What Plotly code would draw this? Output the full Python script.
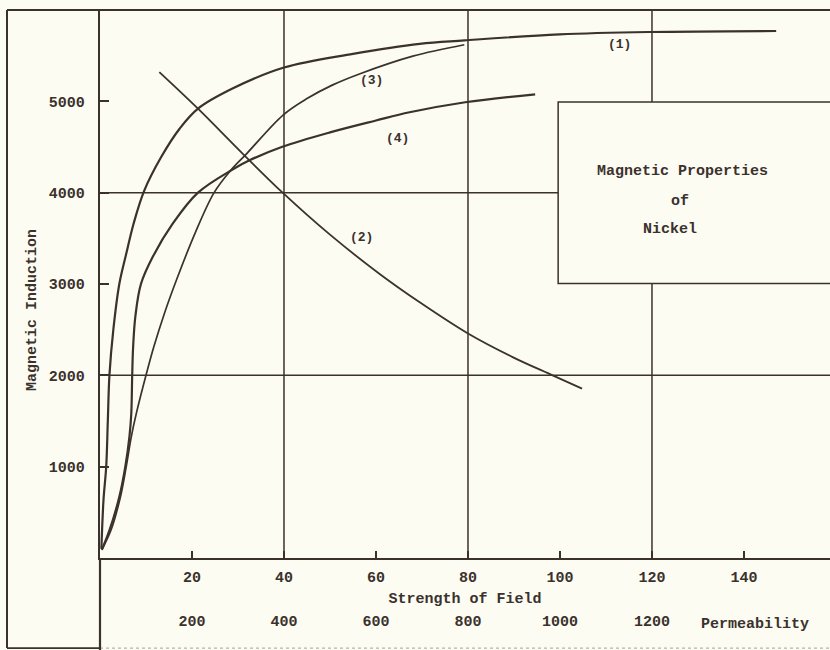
import plotly.graph_objects as go

# Magnetic properties of nickel: induction B against field strength H,
# plus a permeability curve read on the lower scale.

# Curve (1): B vs H
h1 = [0.3, 0.76, 1.35, 1.7, 2.05, 2.9, 4.2, 5.7, 7.3, 9.6, 13.3, 17.3, 21.3, 28.8, 40.0, 55.0, 69.5, 79.2, 99.9, 119.5, 147.0]
b1 = [100, 635, 1000, 1500, 2000, 2500, 3000, 3330, 3660, 4020, 4390, 4700, 4920, 5140, 5370, 5520, 5630, 5667, 5733, 5759, 5770]

# Curve (3): B vs H
h3 = [0.4, 2.4, 4.45, 5.7, 6.8, 7.9, 10.0, 11.7, 14.0, 16.6, 20.7, 24.8, 28.35, 31.9, 39.8, 45.0, 50.6, 56.4, 68.0, 79.2]
b3 = [90, 306, 671, 1000, 1327, 1583, 2000, 2312, 2678, 3041, 3560, 4000, 4240, 4428, 4850, 5030, 5180, 5300, 5495, 5620]

# Curve (4): B vs H
h4 = [0.4, 2.1, 4.2, 5.5, 6.4, 6.8, 7.0, 7.2, 7.7, 8.9, 11.5, 15.8, 21.3, 28.9, 32.5, 39.5, 50.0, 60.0, 67.3, 79.4, 94.6]
b4 = [90, 310, 670, 1000, 1330, 1580, 2000, 2310, 2650, 3000, 3300, 3660, 4000, 4256, 4354, 4500, 4660, 4790, 4880, 4990, 5077]

# Curve (2): B vs permeability
mu2 = [129, 213, 310, 397, 500, 608, 695, 800, 897, 984, 1048]
b2 = [5320, 4920, 4428, 4000, 3540, 3110, 2800, 2458, 2200, 2000, 1855]

field_ticks = [20, 40, 60, 80, 100, 120, 140]
perm_ticks = [200, 400, 600, 800, 1000, 1200]
induction_ticks = [1000, 2000, 3000, 4000, 5000]
curve_labels = ["(1)", "(2)", "(3)", "(4)"]
title_lines = ["Magnetic Properties", "of", "Nickel"]

INK = "#3b312d"
PAPER = "#fcfcf2"
FONT = "Liberation Mono"
TXT = dict(family=FONT, size=15, color=INK, weight="bold")

H_MAX = 158.7
B_MAX = 6000
PERM_PER_FIELD = 10

fig = go.Figure()

for hx, by, w in [(h1, b1, 2.2), (h3, b3, 1.7), (h4, b4, 2.2)]:
    fig.add_trace(go.Scatter(x=hx, y=by, mode="lines", xaxis="x", yaxis="y",
                             line=dict(color=INK, width=w, shape="spline", smoothing=1.0),
                             hoverinfo="skip", showlegend=False))

fig.add_trace(go.Scatter(x=mu2, y=b2, mode="lines", xaxis="x2", yaxis="y",
                         line=dict(color=INK, width=1.8, shape="spline", smoothing=1.0),
                         hoverinfo="skip", showlegend=False))

shapes = []
# grid at every second tick
for gx in [40, 80, 120]:
    shapes.append(dict(type="line", xref="x", yref="y", x0=gx, x1=gx, y0=0, y1=B_MAX,
                       line=dict(color=INK, width=1.5), layer="below"))
for gy in [2000, 4000]:
    shapes.append(dict(type="line", xref="x", yref="y", x0=0, x1=H_MAX, y0=gy, y1=gy,
                       line=dict(color=INK, width=1.5), layer="below"))
# title panel (hides the grid behind it)
shapes.append(dict(type="rect", xref="x", yref="y", x0=99.6, x1=H_MAX + 5, y0=3005, y1=4992,
                   fillcolor=PAPER, line=dict(color=INK, width=1.5), layer="above"))

# outer frame
FX = -0.1274
Y_DOM = (650 - 558) / 640
shapes += [
    dict(type="line", xref="paper", yref="paper", x0=FX, x1=1.01, y0=1, y1=1,
         line=dict(color=INK, width=2.2)),
    dict(type="line", xref="paper", yref="paper", x0=FX, x1=FX, y0=1, y1=0.003,
         line=dict(color=INK, width=2)),
    dict(type="line", xref="paper", yref="paper", x0=FX, x1=0, y0=0.003, y1=0.003,
         line=dict(color=INK, width=1.8)),
    dict(type="line", xref="paper", yref="paper", x0=0, x1=1, y0=0.003, y1=0.003,
         line=dict(color="#b9b3aa", width=1.2, dash="dot")),
    dict(type="line", xref="paper", yref="paper", x0=0, x1=0, y0=Y_DOM, y1=0.0,
         line=dict(color=INK, width=2.2)),
]

annotations = []
label_pos = [(112.9, 5624), (56.8, 3512), (59.0, 5230), (64.7, 4595)]
for txt, (ax, ay) in zip(curve_labels, label_pos):
    annotations.append(dict(x=ax, y=ay, xref="x", yref="y", text=txt, showarrow=False,
                            font=dict(TXT, size=13)))

title_pos = [(126.7, 4230), (126.1, 3901), (123.9, 3595)]
for txt, (ax, ay) in zip(title_lines, title_pos):
    annotations.append(dict(x=ax, y=ay, xref="x", yref="y", text=txt, showarrow=False,
                            font=TXT))

annotations.append(dict(x=1424, y=(650 - 624) / 640, xref="x2", yref="paper",
                        xanchor="center", yanchor="middle",
                        text="Permeability", showarrow=False, font=TXT))
annotations.append(dict(x=(32 - 100) / 730, y=(650 - 310) / 640, xref="paper", yref="paper",
                        xanchor="center", yanchor="middle",
                        text="Magnetic Induction", textangle=-90, showarrow=False,
                        font=TXT))

fig.update_layout(
    width=830, height=650,
    margin=dict(l=100, r=0, t=10, b=0),
    paper_bgcolor=PAPER, plot_bgcolor=PAPER,
    font=TXT,
    showlegend=False,
    xaxis=dict(range=[0, H_MAX], tickvals=field_ticks, ticks="inside", ticklen=7,
               tickwidth=1.5, tickcolor=INK, showgrid=False, zeroline=False,
               showline=True, linecolor=INK, linewidth=2.4, anchor="y",
               ticklabelstandoff=4, tickfont=TXT,
               title=dict(text="Strength of Field", standoff=6, font=TXT)),
    xaxis2=dict(range=[0, H_MAX * PERM_PER_FIELD], tickvals=perm_ticks, overlaying="x",
                anchor="free", position=0.0625, side="bottom", showline=False,
                ticks="", showgrid=False, zeroline=False, tickfont=TXT),
    yaxis=dict(range=[0, B_MAX], domain=[Y_DOM, 1], tickvals=induction_ticks,
               ticks="inside", ticklen=9, tickwidth=1.5, tickcolor=INK,
               showgrid=False, zeroline=False, showline=True, linecolor=INK,
               linewidth=2.4, ticklabelstandoff=10, tickfont=TXT),
    shapes=shapes,
    annotations=annotations,
)

fig.write_html("out.html")
